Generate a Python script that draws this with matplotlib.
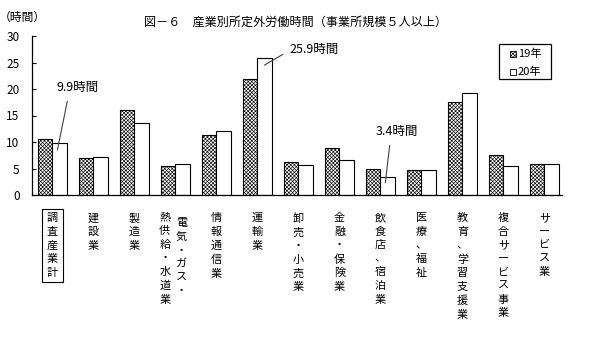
"""図－６ 産業別所定外労働時間（事業所規模５人以上） bar chart."""
import matplotlib

matplotlib.use("Agg")
import matplotlib.pyplot as plt
from matplotlib.patches import Rectangle

plt.rcParams["font.family"] = ["Noto Sans CJK JP", "DejaVu Sans"]
plt.rcParams["hatch.linewidth"] = 0.45

INDUSTRIES = [
    "調査産業計",
    "建設業",
    "製造業",
    "電気・ガス・熱供給・水道業",
    "情報通信業",
    "運輸業",
    "卸売・小売業",
    "金融・保険業",
    "飲食店、宿泊業",
    "医療、福祉",
    "教育、学習支援業",
    "複合サービス事業",
    "サービス業",
]
HOURS_19 = [10.6, 6.9, 16.1, 5.4, 11.4, 21.9, 6.3, 8.8, 5.0, 4.8, 17.6, 7.6, 5.9]
HOURS_20 = [9.9, 7.1, 13.6, 5.9, 12.1, 25.9, 5.7, 6.6, 3.4, 4.8, 19.2, 5.4, 5.9]
SERIES_LABELS = ["19年", "20年"]
Y_TICKS = [0, 5, 10, 15, 20, 25, 30]

# callouts: (category index, value label)
CALLOUTS = [(0, "9.9時間"), (5, "25.9時間"), (8, "3.4時間")]

W, H = 611, 342
BAR_W = 0.35
HATCH = "xxxxxxxxx"
LSP = 1.45


def vertical(text: str) -> str:
    return "\n".join(text)


def fx(px: float) -> float:
    return px / W


def fy(py: float) -> float:
    return 1 - py / H


fig = plt.figure(figsize=(W / 100, H / 100), dpi=100)
ax = fig.add_axes([fx(32), fy(195), fx(562 - 32), (195 - 36) / H])

x = list(range(len(INDUSTRIES)))
ax.bar([i - BAR_W / 2 for i in x], HOURS_19, width=BAR_W, facecolor="white",
       edgecolor="black", linewidth=0.8, hatch=HATCH)
ax.bar([i + BAR_W / 2 for i in x], HOURS_20, width=BAR_W, facecolor="white",
       edgecolor="black", linewidth=0.8)

ax.set_xlim(-0.5, 12.43)
ax.set_ylim(0, 30)
ax.set_yticks(Y_TICKS)
ax.tick_params(axis="y", direction="in", length=3, width=0.8, labelsize=8.5, pad=9)
for spine in ["top", "right"]:
    ax.spines[spine].set_visible(False)
for spine in ["left", "bottom"]:
    ax.spines[spine].set_linewidth(0.9)

# category labels, written vertically
ax.set_xticks(x)
labels = [vertical(name) for name in INDUSTRIES]
labels[3] = ""
ax.set_xticklabels(labels, fontsize=8, linespacing=LSP, va="top")
ax.tick_params(axis="x", length=0, pad=13)
ax.get_xticklabels()[0].set_bbox(dict(boxstyle="square,pad=0.4", facecolor="none",
                                      edgecolor="black", linewidth=0.8))

xt = ax.get_xaxis_transform()
ax.text(3 - 0.26, -0.108, vertical("熱供給・水道業"), transform=xt,
        ha="center", va="top", fontsize=8, linespacing=LSP)
ax.text(3 + 0.15, -0.145, vertical("電気・ガス・"), transform=xt,
        ha="center", va="top", fontsize=8, linespacing=LSP)

# callouts
line_style = dict(arrowstyle="-", color="#404040", linewidth=0.8, shrinkA=3, shrinkB=0)
ax.annotate(CALLOUTS[0][1], xy=(0.12, 8.5), xytext=(0.6, 20.2),
            ha="center", va="center", fontsize=9,
            arrowprops=dict(relpos=(0.3, 0.0), **line_style))
ax.annotate(CALLOUTS[1][1], xy=(5.17, 24.5), xytext=(6.38, 27.5),
            ha="center", va="center", fontsize=9,
            arrowprops=dict(relpos=(0.0, 0.4), **line_style))
ax.annotate(CALLOUTS[2][1], xy=(8.12, 2.3), xytext=(8.39, 11.9),
            ha="center", va="center", fontsize=9,
            arrowprops=dict(relpos=(0.36, 0.0), **line_style))

# legend box drawn by hand to get the wide, short frame of the original
fig.patches.append(Rectangle((fx(499), fy(79)), fx(52), 35 / H, transform=fig.transFigure,
                             facecolor="white", edgecolor="black", linewidth=0.9))
for label, hatch, ypix in zip(SERIES_LABELS, [HATCH, None], [54, 72]):
    fig.patches.append(Rectangle((fx(510), fy(ypix + 3)), fx(6), 6 / H,
                                 transform=fig.transFigure, facecolor="white",
                                 edgecolor="black", linewidth=0.6, hatch=hatch))
    fig.text(fx(518), fy(ypix), label, ha="left", va="center", fontsize=8)

fig.text(fx(296), fy(22), "図－６　産業別所定外労働時間（事業所規模５人以上）",
         ha="center", va="center", fontsize=8.7)
fig.text(fx(22), fy(17), "（時間）", ha="center", va="center", fontsize=8.5)

fig.savefig("out.png", dpi=100, facecolor="white")
